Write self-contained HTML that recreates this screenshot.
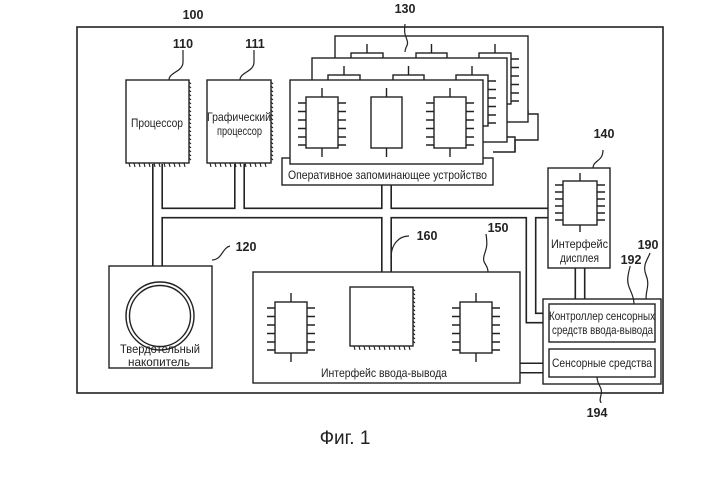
<!DOCTYPE html>
<html><head><meta charset="utf-8"><style>
html,body{margin:0;padding:0;background:#fff;width:715px;height:482px;overflow:hidden}
svg{display:block}
text{font-family:"Liberation Sans",sans-serif;fill:#222}
.l{font-size:12px}
.n{font-size:12.5px;font-weight:bold}
</style></head><body>
<svg width="715" height="482" viewBox="0 0 715 482" xmlns="http://www.w3.org/2000/svg">
<defs>
<g id="chipA" stroke="#222" stroke-width="1.4" fill="#fff">
 <rect x="0" y="0" width="32" height="51"/>
 <path d="M16 -9V0M16 51V60M-8 6H0M-8 14.5H0M-8 23H0M-8 31.5H0M-8 40H0M-8 48H0M32 6H40M32 14.5H40M32 23H40M32 31.5H40M32 40H40M32 48H40" fill="none"/>
</g>
<g id="ram">
 <use href="#chipA" x="16" y="17"/>
 <rect x="81" y="17" width="31" height="51" fill="#fff" stroke="#222" stroke-width="1.4"/>
 <path d="M96.5 8V17M96.5 68V77" stroke="#222" stroke-width="1.4"/>
 <use href="#chipA" x="144" y="17"/>
</g>
</defs>
<g fill="none" stroke="#222" stroke-width="1.6">
<rect x="77" y="27" width="586" height="366"/>
</g>
<g fill="none" stroke-linejoin="miter">
<path d="M157.5 164V266M157.5 213H531V318H543M239.5 164V213M386.5 185V272M386.5 213H550M580 268V300" stroke="#222" stroke-width="11"/>
<path d="M157.5 164V266M157.5 213H531V318H543M239.5 164V213M386.5 185V272M386.5 213H550M580 268V300" stroke="#fff" stroke-width="7.8"/>
<path d="M520 368H543" stroke="#222" stroke-width="11"/>
<path d="M519 368H544" stroke="#fff" stroke-width="8"/>
</g>
<g stroke="#222" stroke-width="1.4">
<path d="M528 110V114H538V140H515V152H493" fill="none"/>
<rect x="335" y="36" width="193" height="86" fill="#fff"/>
<use href="#ram" x="335" y="36"/>
<path d="M507 137H515V152" fill="none"/>
<rect x="312" y="58" width="195" height="84" fill="#fff"/>
<use href="#ram" x="312" y="58"/>
<rect x="282" y="158" width="211" height="27" fill="#fff"/>
<rect x="290" y="80" width="193" height="84" fill="#fff"/>
<use href="#ram" x="290" y="80"/>
</g>
<text class="l" x="288" y="179" textLength="199" lengthAdjust="spacingAndGlyphs">Оперативное запоминающее устройство</text>
<g stroke="#222" stroke-width="1.4" fill="#fff">
<rect x="126" y="80" width="63" height="83"/>
<rect x="207" y="80" width="64" height="83"/>
</g>
<g stroke="#222" stroke-width="1.1">
<path d="M189 82l2 2M189 86l2 2M189 90l2 2M189 94l2 2M189 98l2 2M189 102l2 2M189 106l2 2M189 110l2 2M189 114l2 2M189 118l2 2M189 122l2 2M189 126l2 2M189 130l2 2M189 134l2 2M189 138l2 2M189 142l2 2M189 146l2 2M189 150l2 2M189 154l2 2M189 158l2 2"/>
<path d="M129 163l1 4M134 163l1 4M139 163l1 4M144 163l1 4M149 163l1 4M154 163l1 4M159 163l1 4M164 163l1 4M169 163l1 4M174 163l1 4M179 163l1 4M184 163l1 4"/>
<path d="M271 82l2 2M271 86l2 2M271 90l2 2M271 94l2 2M271 98l2 2M271 102l2 2M271 106l2 2M271 110l2 2M271 114l2 2M271 118l2 2M271 122l2 2M271 126l2 2M271 130l2 2M271 134l2 2M271 138l2 2M271 142l2 2M271 146l2 2M271 150l2 2M271 154l2 2M271 158l2 2"/>
<path d="M210 163l1 4M215 163l1 4M220 163l1 4M225 163l1 4M230 163l1 4M235 163l1 4M240 163l1 4M245 163l1 4M250 163l1 4M255 163l1 4M260 163l1 4M265 163l1 4"/>
</g>
<text class="l" x="131" y="127" textLength="52" lengthAdjust="spacingAndGlyphs">Процессор</text>
<text class="l" x="207" y="121" textLength="64" lengthAdjust="spacingAndGlyphs">Графический</text>
<text class="l" x="217" y="135" textLength="45" lengthAdjust="spacingAndGlyphs">процессор</text>
<g stroke="#222" stroke-width="1.4" fill="#fff">
<rect x="109" y="266" width="103" height="102"/>
<circle cx="160" cy="316" r="34"/>
<circle cx="160" cy="316" r="30.5"/>
</g>
<text class="l" x="120" y="353" textLength="80" lengthAdjust="spacingAndGlyphs">Твердотельный</text>
<text class="l" x="128" y="366" textLength="62" lengthAdjust="spacingAndGlyphs">накопитель</text>
<g stroke="#222" stroke-width="1.4" fill="#fff">
<rect x="253" y="272" width="267" height="111"/>
<use href="#chipA" x="275" y="302"/>
<rect x="350" y="287" width="63" height="59"/>
<use href="#chipA" x="460" y="302"/>
</g>
<g stroke="#222" stroke-width="1.1">
<path d="M413 289l2 2M413 293l2 2M413 297l2 2M413 301l2 2M413 305l2 2M413 309l2 2M413 313l2 2M413 317l2 2M413 321l2 2M413 325l2 2M413 329l2 2M413 333l2 2M413 337l2 2M413 341l2 2"/>
<path d="M354 346l1 4M359 346l1 4M364 346l1 4M369 346l1 4M374 346l1 4M379 346l1 4M384 346l1 4M389 346l1 4M394 346l1 4M399 346l1 4M404 346l1 4M409 346l1 4"/>
</g>
<text class="l" x="321" y="377" textLength="126" lengthAdjust="spacingAndGlyphs">Интерфейс ввода-вывода</text>
<g stroke="#222" stroke-width="1.4" fill="#fff">
<rect x="548" y="168" width="62" height="100"/>
<rect x="563" y="181" width="34" height="44"/>
<path d="M580 173V181M580 225V232M555 185H563M555 192H563M555 199H563M555 206H563M555 213H563M555 220H563M597 185H605M597 192H605M597 199H605M597 206H605M597 213H605M597 220H605" fill="none"/>
</g>
<text class="l" x="551" y="248" textLength="57" lengthAdjust="spacingAndGlyphs">Интерфейс</text>
<text class="l" x="560" y="262" textLength="39" lengthAdjust="spacingAndGlyphs">дисплея</text>
<g stroke="#222" stroke-width="1.4" fill="#fff">
<rect x="543" y="299" width="118" height="85"/>
<rect x="549" y="304" width="106" height="38"/>
<rect x="549" y="349" width="106" height="28"/>
</g>
<text class="l" x="549" y="320" textLength="106" lengthAdjust="spacingAndGlyphs">Контроллер сенсорных</text>
<text class="l" x="552" y="334" textLength="101" lengthAdjust="spacingAndGlyphs">средств ввода-вывода</text>
<text class="l" x="552" y="367" textLength="100" lengthAdjust="spacingAndGlyphs">Сенсорные средства</text>
<g fill="none" stroke="#222" stroke-width="1.2">
<path d="M169 80c0-8 14-8 14-18V50"/>
<path d="M240 80c0-8 14-8 14-18V50"/>
<path d="M405 52c0-6 4-6 2-12s-3-6-2-16"/>
<path d="M212 260c10 0 10-12 18-14"/>
<path d="M391 258c0-14 8-22 18-22"/>
<path d="M488 272c0-8-6-8-4-16s4-8 2-22"/>
<path d="M593 168c0-8 10-6 10-18"/>
<path d="M646 299c0-10 4-14 0-24s2-16 4-22"/>
<path d="M634 304c0-12-8-16-6-28s2-6 2-10"/>
<path d="M597 377c0 8 6 10 4 18s0 6 0 8"/>
</g>
<text class="n" x="193" y="19" text-anchor="middle">100</text>
<text class="n" x="183" y="48" text-anchor="middle">110</text>
<text class="n" x="255" y="48" text-anchor="middle">111</text>
<text class="n" x="405" y="13" text-anchor="middle">130</text>
<text class="n" x="604" y="138" text-anchor="middle">140</text>
<text class="n" x="246" y="251" text-anchor="middle">120</text>
<text class="n" x="427" y="240" text-anchor="middle">160</text>
<text class="n" x="498" y="232" text-anchor="middle">150</text>
<text class="n" x="648" y="249" text-anchor="middle">190</text>
<text class="n" x="631" y="264" text-anchor="middle">192</text>
<text class="n" x="597" y="417" text-anchor="middle">194</text>
<text x="345" y="444" text-anchor="middle" style="font-size:19px">Фиг. 1</text>
</svg>
</body></html>
